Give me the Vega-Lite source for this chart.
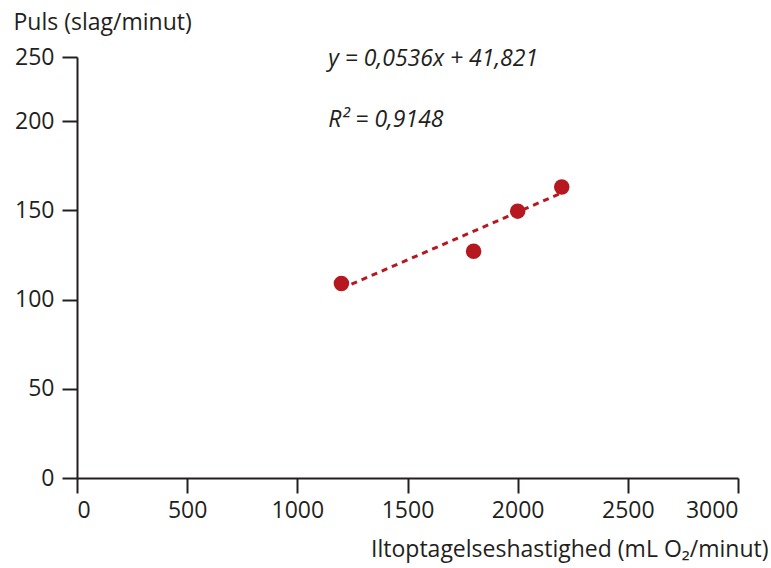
{
  "$schema": "https://vega.github.io/schema/vega-lite/v6.json",
  "autosize": "none",
  "width": 661,
  "height": 421,
  "padding": {"left": 77, "top": 57, "right": 33, "bottom": 90},
  "background": "white",
  "config": {
    "view": {"stroke": null},
    "font": "Open Sans",
    "axis": {
      "grid": false,
      "domainColor": "#231f20",
      "domainWidth": 2,
      "tickColor": "#231f20",
      "tickWidth": 2,
      "tickSize": 15,
      "labelColor": "#231f20",
      "labelFont": "Open Sans",
      "labelFontSize": 23,
      "labelPadding": 6,
      "titleColor": "#231f20",
      "titleFont": "Open Sans",
      "titleFontSize": 23,
      "titleFontWeight": "normal"
    }
  },
  "datasets": {
    "points": [
      {"ilt": 1200, "puls": 109},
      {"ilt": 1800, "puls": 127},
      {"ilt": 2000, "puls": 149.5},
      {"ilt": 2200, "puls": 163}
    ],
    "trend": [
      {"ilt": 1200, "puls": 106.1},
      {"ilt": 2200, "puls": 159.7}
    ],
    "labels": [
      {"ilt": 1140, "puls": 248.5, "txt": "y = 0,0536x + 41,821"},
      {"ilt": 1140, "puls": 201, "txt": "R² = 0,9148"}
    ]
  },
  "layer": [
    {
      "data": {"name": "trend"},
      "mark": {"type": "line", "color": "#b5191f", "strokeWidth": 3, "strokeDash": [6, 5]},
      "encoding": {
        "x": {"field": "ilt", "type": "quantitative", "scale": {"domain": [0, 3000], "nice": false},
          "axis": {"values": [0, 500, 1000, 1500, 2000, 2500, 3000], "format": "d", "title": "Iltoptagelseshastighed (mL O₂/minut)",
            "titleAnchor": "end", "titleAlign": "right", "titleBaseline": "middle", "titleX": 691, "titleY": 71}},
        "y": {"field": "puls", "type": "quantitative",
          "scale": {"domain": [0, 200, 250], "range": [421, 64, 0], "nice": false, "zero": false},
          "axis": {"values": [0, 50, 100, 150, 200, 250], "format": "d", "title": "Puls (slag/minut)",
            "titleAngle": 0, "titleAlign": "left", "titleBaseline": "middle", "titleX": -64, "titleY": -35, "labelPadding": 8}}
      }
    },
    {
      "data": {"name": "points"},
      "mark": {"type": "circle", "color": "#b5191f", "opacity": 1, "size": 240},
      "encoding": {
        "x": {"field": "ilt", "type": "quantitative"},
        "y": {"field": "puls", "type": "quantitative"}
      }
    },
    {
      "data": {"name": "labels"},
      "mark": {"type": "text", "align": "left", "baseline": "middle", "font": "Open Sans", "fontStyle": "italic", "fontSize": 23, "color": "#231f20"},
      "encoding": {
        "x": {"field": "ilt", "type": "quantitative"},
        "y": {"field": "puls", "type": "quantitative"},
        "text": {"field": "txt"}
      }
    }
  ]
}
